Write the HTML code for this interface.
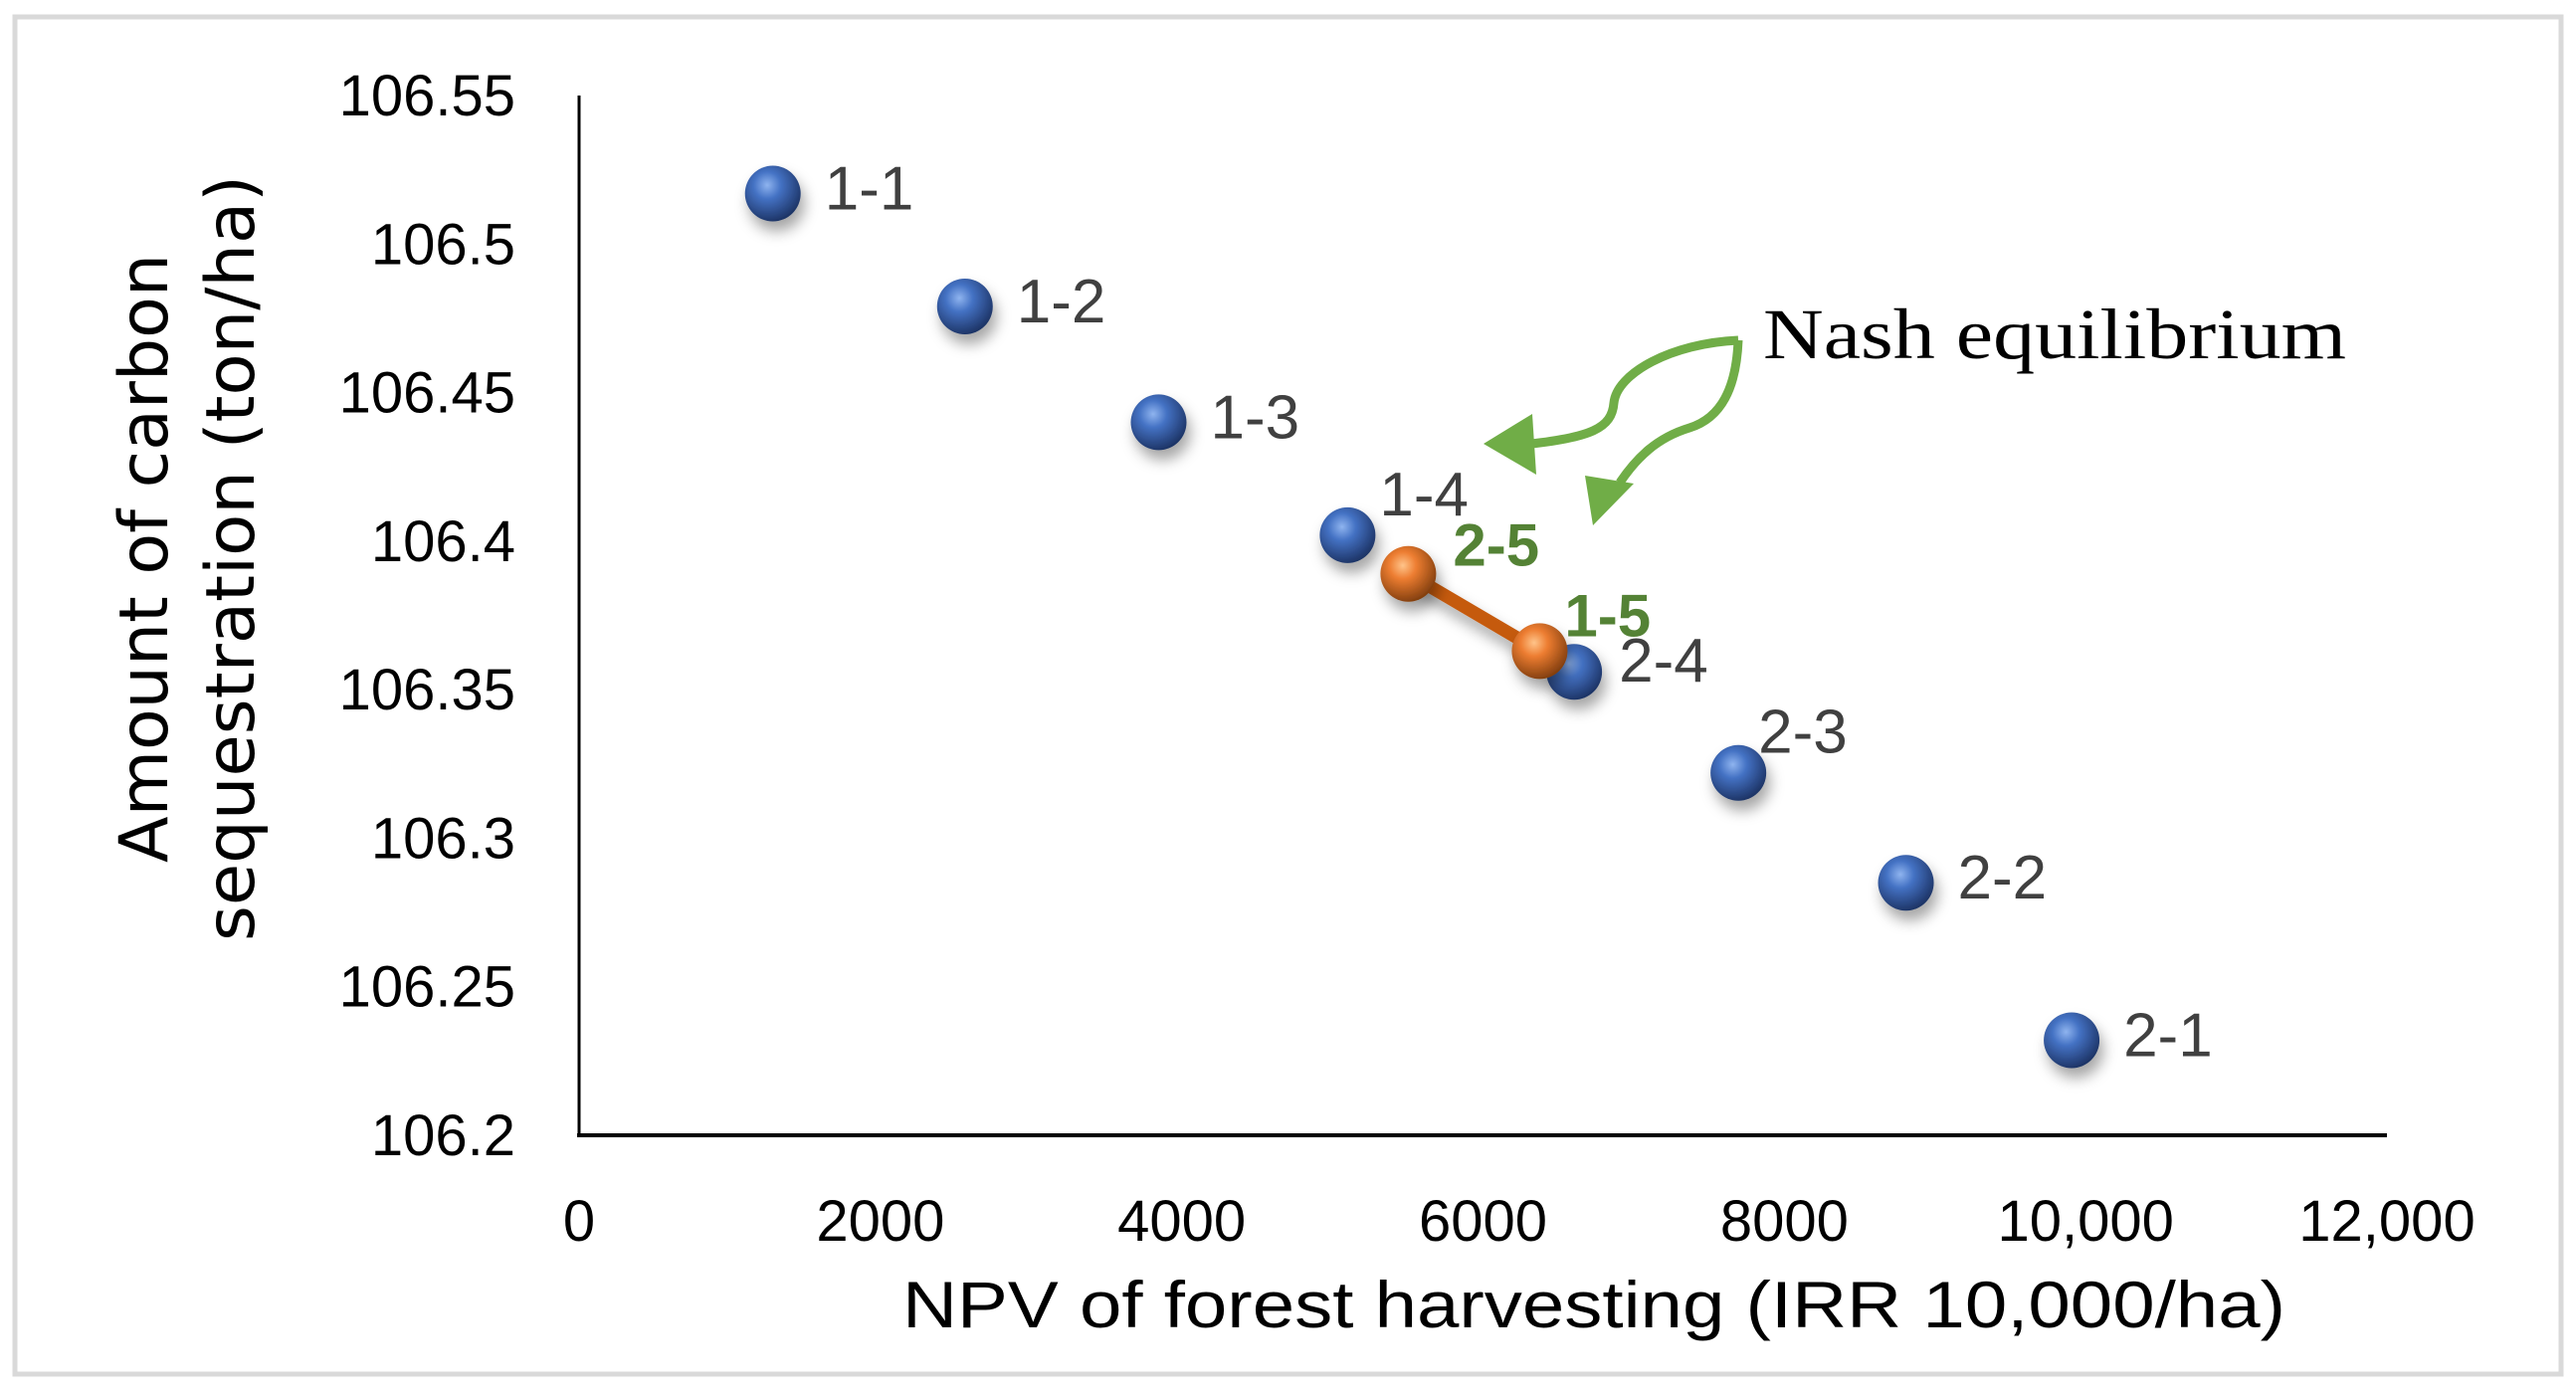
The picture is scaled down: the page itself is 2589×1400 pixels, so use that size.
<!DOCTYPE html>
<html><head><meta charset="utf-8"><style>
html,body{margin:0;padding:0;background:#fff;}
svg{display:block;}
</style></head><body>
<svg id="chart" width="2589" height="1400" viewBox="0 0 2589 1400" xmlns="http://www.w3.org/2000/svg">
<defs>
<radialGradient id="gBlue" cx="0.4" cy="0.35" r="0.7">
<stop offset="0" stop-color="#8fb4ef"/><stop offset="0.35" stop-color="#4472c4"/><stop offset="1" stop-color="#1a2f5e"/>
</radialGradient>
<radialGradient id="gOrange" cx="0.4" cy="0.35" r="0.7">
<stop offset="0" stop-color="#ffc48a"/><stop offset="0.35" stop-color="#ed7d31"/><stop offset="1" stop-color="#7a3a0c"/>
</radialGradient>
<filter id="sh" x="-50%" y="-50%" width="200%" height="200%"><feDropShadow dx="4" dy="10" stdDeviation="7" flood-color="#000" flood-opacity="0.35"/></filter>
</defs>
<rect x="15" y="17" width="2559" height="1364" fill="none" stroke="#d9d9d9" stroke-width="5"/>
<g id="axes"></g>
<g id="marks"></g>
<g>
<path d="M1747,342 C1680,345 1625,375 1622,405 C1620,430 1600,440 1530,447" fill="none" stroke="#70ad47" stroke-width="9"/>
<polygon points="1491,446 1540,416 1544,477" fill="#70ad47"/>
<path d="M1747,342 C1745,390 1730,420 1698,430 C1665,440 1645,460 1628,485" fill="none" stroke="#70ad47" stroke-width="9"/>
<polygon points="1601,528 1593,478 1642,486" fill="#70ad47"/>
<text x="1772" y="360" font-family="Liberation Serif, serif" font-size="72" fill="#000" textLength="586" lengthAdjust="spacingAndGlyphs">Nash equilibrium</text>
</g>
<text x="1602" y="1334" text-anchor="middle" font-family="Liberation Sans, sans-serif" font-size="66" fill="#000" textLength="1390" lengthAdjust="spacingAndGlyphs">NPV of forest harvesting  (IRR 10,000/ha)</text>
<text transform="translate(168,561) rotate(-90)" text-anchor="middle" font-family="DejaVu Sans, sans-serif" font-size="68" fill="#000" textLength="612" lengthAdjust="spacingAndGlyphs">Amount of carbon</text>
<text transform="translate(255,561) rotate(-90)" text-anchor="middle" font-family="DejaVu Sans, sans-serif" font-size="68" fill="#000" textLength="770" lengthAdjust="spacingAndGlyphs">sequestration (ton/ha)</text>
</svg>
<script>
const xTicks = [0, 2000, 4000, 6000, 8000, 10000, 12000];
const xTickLabels = ["0", "2000", "4000", "6000", "8000", "10,000", "12,000"];
const yTicks = [106.2, 106.25, 106.3, 106.35, 106.4, 106.45, 106.5, 106.55];
const yTickLabels = ["106.2", "106.25", "106.3", "106.35", "106.4", "106.45", "106.5", "106.55"];
const blueLabels = ["1-1", "1-2", "1-3", "1-4", "2-4", "2-3", "2-2", "2-1"];
const blueX = [1286, 2561, 3847, 5101, 6605, 7695, 8807, 9907];
const blueY = [106.517, 106.479, 106.44, 106.402, 106.356, 106.322, 106.285, 106.232];
const nashLabels = ["2-5", "1-5"];
const nashX = [5504, 6376];
const nashY = [106.389, 106.363];

const NS = "http://www.w3.org/2000/svg";
const X0 = 582, X1 = 2399, Y0 = 1141, Y1 = 96;
function sx(v){ return X0 + (v - 0) / 12000 * (X1 - X0); }
function sy(v){ return Y0 - (v - 106.2) / 0.35 * (Y0 - Y1); }
function mk(tag, attrs, parent){ const e = document.createElementNS(NS, tag); for (const k in attrs) e.setAttribute(k, attrs[k]); parent.appendChild(e); return e; }

const axes = document.getElementById('axes');
const marks = document.getElementById('marks');
const ya = mk('line', {x1:X0, y1:Y1, x2:X0, y2:Y0, stroke:'#000', 'stroke-width':3}, axes);


const xa = mk('line', {x1:X0-2, y1:Y0, x2:X1, y2:Y0, stroke:'#000', 'stroke-width':4}, axes);



xTicks.forEach((v, i) => {
  const t = mk('text', {x:sx(v), y:1247, 'text-anchor':'middle', 'font-family':'Liberation Sans, sans-serif', 'font-size':58, fill:'#000'}, axes);
  t.textContent = xTickLabels[i];
  
  
});
yTicks.forEach((v, i) => {
  const t = mk('text', {x:518, y:sy(v)+20, 'text-anchor':'end', 'font-family':'Liberation Sans, sans-serif', 'font-size':58, fill:'#000'}, axes);
  t.textContent = yTickLabels[i];
  
  
});

const blueOff = {"1-4":[32,-20], "2-3":[20,-20], "2-4":[45,10]};
blueX.forEach((v, i) => {
  const c = mk('circle', {cx:sx(v), cy:sy(blueY[i]), r:28, fill:'url(#gBlue)', filter:'url(#sh)'}, marks);
  
  
});

const ln = mk('line', {x1:sx(nashX[0]), y1:sy(nashY[0]), x2:sx(nashX[1]), y2:sy(nashY[1]), stroke:'#c55a11', 'stroke-width':13, filter:'url(#sh)'}, marks);


nashX.forEach((v, i) => {
  const c = mk('circle', {cx:sx(v), cy:sy(nashY[i]), r:28, fill:'url(#gOrange)', filter:'url(#sh)'}, marks);
  
  
});

blueX.forEach((v, i) => {
  const o = blueOff[blueLabels[i]] || [52, 16];
  const t = mk('text', {x:sx(v)+o[0], y:sy(blueY[i])+o[1], 'font-family':'Liberation Sans, sans-serif', 'font-size':62, fill:'#404040'}, marks);
  t.textContent = blueLabels[i];
  
  
});
const nashOff = [[45,-8], [25,-15]];
nashX.forEach((v, i) => {
  const t = mk('text', {x:sx(v)+nashOff[i][0], y:sy(nashY[i])+nashOff[i][1], 'font-family':'Liberation Sans, sans-serif', 'font-size':60, 'font-weight':'bold', fill:'#548235'}, marks);
  t.textContent = nashLabels[i];
  
  
});
</script>
</body></html>
